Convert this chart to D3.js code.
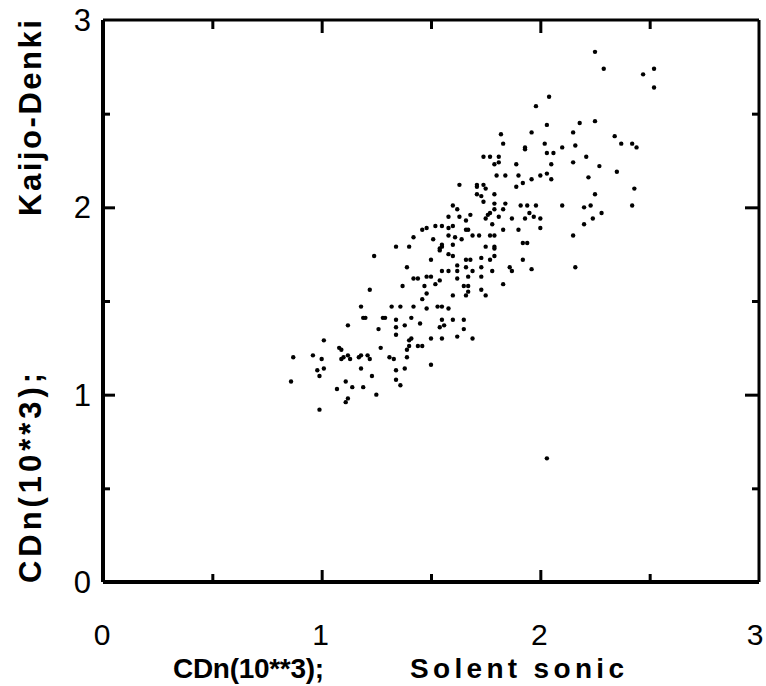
<!DOCTYPE html>
<html>
<head>
<meta charset="utf-8">
<script src="https://cdn.jsdelivr.net/npm/d3@7"></script>
<style>
  html, body { margin: 0; padding: 0; background: #fff; }
  svg { display: block; }
</style>
</head>
<body>
<svg id="chart" width="766" height="686"></svg>
<script>
// ---- Data ----
const xTickLabels = ["0", "1", "2", "3"];
const yTickLabels = ["0", "1", "2", "3"];
const xTitleParts = ["CDn(10**3);", "Solent  sonic"];
const yTitleParts = ["CDn(10**3);", "Kaijo-Denki"];

// CDn (10**3), Solent sonic (x)
const solentSonic = [
  1.24,1.50,1.54,1.58,1.60,1.62,1.39,1.55,1.58,1.62,1.42,1.44,1.48,1.50,1.54,1.52,1.47,1.37,1.22,1.48,
  1.60,1.46,1.32,1.36,1.42,1.48,1.53,1.55,1.58,1.18,1.19,1.20,1.28,1.29,1.34,1.41,1.55,1.60,1.12,1.38,
  1.45,1.34,1.54,1.56,1.26,1.34,1.62,1.50,1.01,1.40,1.08,1.09,1.27,1.40,1.39,1.44,1.46,0.87,0.96,1.00,
  1.09,1.10,1.12,1.13,1.17,1.18,1.21,1.22,1.31,1.33,1.39,0.98,0.99,1.01,1.18,1.38,1.50,1.23,1.34,1.34,
  0.86,1.11,1.07,1.14,1.19,1.12,1.25,0.99,2.03,1.11,1.36,
  1.83,1.93,1.93,1.74,1.77,1.81,1.79,1.81,1.89,1.80,1.84,1.90,1.63,1.71,1.71,1.74,1.75,1.92,1.89,1.71,
  1.73,1.74,1.79,1.79,1.79,1.84,1.83,1.91,1.94,1.60,1.62,1.58,1.63,1.66,1.68,1.75,1.76,1.77,1.81,1.87,
  1.93,1.46,1.48,1.52,1.55,1.58,1.60,1.66,1.67,1.78,1.83,1.90,1.42,1.51,1.58,1.61,1.64,1.69,1.72,1.77,
  1.79,1.34,1.40,1.55,1.54,1.55,1.60,1.75,1.79,1.79,1.92,1.94,1.66,1.68,1.73,1.77,1.79,1.92,1.66,1.69,
  1.73,1.78,1.86,1.87,1.62,1.67,1.73,1.65,1.67,1.67,1.73,1.75,1.83,1.66,1.65,1.65,1.41,1.55,1.69,
  2.04,1.98,2.03,2.18,2.25,1.96,2.15,1.82,2.02,2.10,2.16,2.34,2.37,2.42,2.44,2.03,2.06,2.21,2.15,2.05,
  2.27,1.96,2.00,2.03,2.05,2.22,2.35,2.43,2.25,1.98,2.10,2.20,2.23,2.42,1.95,1.97,2.00,2.24,2.28,2.20,
  2.00,2.15,1.96,2.16,2.25,2.29,2.47,2.52,2.52
];
// CDn (10**3), Kaijo-Denki (y)
const kaijoDenki = [
  1.74,1.72,1.77,1.75,1.74,1.69,1.68,1.66,1.66,1.66,1.62,1.62,1.63,1.63,1.61,1.59,1.58,1.58,1.56,1.54,
  1.53,1.51,1.47,1.47,1.47,1.46,1.47,1.47,1.46,1.47,1.41,1.41,1.41,1.41,1.40,1.41,1.40,1.40,1.37,1.37,
  1.38,1.36,1.36,1.37,1.35,1.32,1.31,1.30,1.29,1.29,1.25,1.24,1.25,1.26,1.24,1.26,1.26,1.20,1.21,1.19,
  1.19,1.20,1.21,1.19,1.20,1.21,1.21,1.19,1.20,1.19,1.20,1.13,1.10,1.14,1.14,1.14,1.16,1.10,1.13,1.08,
  1.07,1.07,1.03,1.04,1.04,0.98,1.00,0.92,0.66,0.96,1.05,
  2.34,2.32,2.31,2.27,2.27,2.27,2.23,2.24,2.23,2.17,2.17,2.17,2.12,2.12,2.11,2.12,2.10,2.13,2.11,2.07,
  2.06,2.03,2.07,2.02,1.99,2.02,1.99,2.01,2.01,2.01,1.99,1.95,1.95,1.93,1.96,1.94,1.96,1.97,1.95,1.94,
  1.94,1.88,1.89,1.90,1.90,1.89,1.90,1.88,1.88,1.91,1.88,1.88,1.84,1.83,1.85,1.84,1.83,1.85,1.85,1.85,
  1.85,1.79,1.79,1.79,1.78,1.80,1.80,1.79,1.79,1.78,1.81,1.81,1.72,1.72,1.73,1.72,1.74,1.72,1.68,1.66,
  1.68,1.66,1.68,1.66,1.62,1.63,1.63,1.58,1.58,1.55,1.56,1.53,1.59,1.53,1.40,1.35,1.30,1.30,1.30,
  2.59,2.54,2.44,2.45,2.46,2.40,2.40,2.39,2.34,2.32,2.33,2.38,2.34,2.34,2.32,2.29,2.29,2.27,2.24,2.23,
  2.22,2.15,2.17,2.18,2.15,2.16,2.19,2.10,2.07,2.01,2.01,2.00,2.01,2.01,1.97,1.95,1.94,1.94,1.97,1.91,
  1.89,1.85,1.67,1.68,2.83,2.74,2.71,2.74,2.64
];

const majorTicks = [0, 1, 2, 3];
const minorTicks = [0.5, 1.5, 2.5];

// ---- Layout ----
const svg = d3.select("#chart");
const plotL = 103, plotR = 759, plotT = 20, plotB = 582;
const x = d3.scaleLinear().domain([0, 3]).range([plotL, plotR]);
const y = d3.scaleLinear().domain([0, 3]).range([plotB, plotT]);

const narrowFont = "'Liberation Sans Narrow', 'Liberation Sans', Arial, sans-serif";

// Frame
const frame = svg.append("g");
frame.append("line").attr("x1", plotL).attr("x2", plotR).attr("y1", plotB).attr("y2", plotB)
  .attr("stroke", "#000").attr("stroke-width", 4);
frame.append("line").attr("x1", plotL).attr("x2", plotL).attr("y1", plotT).attr("y2", plotB)
  .attr("stroke", "#000").attr("stroke-width", 4);
frame.append("line").attr("x1", plotL).attr("x2", plotR).attr("y1", plotT).attr("y2", plotT)
  .attr("stroke", "#000").attr("stroke-width", 3);
frame.append("line").attr("x1", plotR).attr("x2", plotR).attr("y1", plotT).attr("y2", plotB)
  .attr("stroke", "#000").attr("stroke-width", 3);

// Inward ticks via d3 axes (no domain, no labels)
function tickAxis(axisFn, scale, values, size, transform) {
  const g = svg.append("g").attr("transform", transform)
    .call(axisFn(scale).tickValues(values).tickSize(size).tickFormat(""));
  g.select(".domain").remove();
  g.selectAll(".tick line").attr("stroke", "#000").attr("stroke-width", 3);
  return g;
}
const innerMajor = [1, 2];
tickAxis(d3.axisBottom, x, innerMajor, -12, `translate(0,${plotB})`);
tickAxis(d3.axisBottom, x, minorTicks, -8, `translate(0,${plotB})`);
tickAxis(d3.axisTop, x, innerMajor, -13, `translate(0,${plotT})`);
tickAxis(d3.axisTop, x, minorTicks, -9, `translate(0,${plotT})`);
tickAxis(d3.axisLeft, y, innerMajor, -12, `translate(${plotL},0)`);
tickAxis(d3.axisLeft, y, minorTicks, -7, `translate(${plotL},0)`);
tickAxis(d3.axisRight, y, innerMajor, -14, `translate(${plotR},0)`);
tickAxis(d3.axisRight, y, minorTicks, -7, `translate(${plotR},0)`);

// Tick labels
svg.append("g").selectAll("text").data(majorTicks).join("text")
  .attr("x", d => Math.min(x(d) - 1, 755)).attr("y", 645)
  .attr("text-anchor", "middle")
  .attr("font-family", narrowFont).attr("font-size", 30)
  .text((d, i) => xTickLabels[i]);
svg.append("g").selectAll("text").data(majorTicks).join("text")
  .attr("x", 91).attr("y", d => y(d)).attr("dy", "0.36em")
  .attr("text-anchor", "end")
  .attr("font-family", narrowFont).attr("font-size", 31)
  .text((d, i) => yTickLabels[i]);

// Axis titles
svg.append("text").attr("x", 173).attr("y", 678)
  .attr("font-family", narrowFont).attr("font-weight", "bold").attr("font-size", 28)
  .attr("textLength", 151).attr("lengthAdjust", "spacing")
  .text(xTitleParts[0]);
svg.append("text").attr("x", 410).attr("y", 678)
  .attr("font-family", narrowFont).attr("font-weight", "bold").attr("font-size", 28)
  .attr("textLength", 214).attr("lengthAdjust", "spacing")
  .text(xTitleParts[1]);
svg.append("text").attr("transform", "translate(41,583) rotate(-90)")
  .attr("font-family", narrowFont).attr("font-weight", "bold").attr("font-size", 31)
  .attr("textLength", 210).attr("lengthAdjust", "spacing")
  .text(yTitleParts[0]);
svg.append("text").attr("transform", "translate(41,216) rotate(-90)")
  .attr("font-family", narrowFont).attr("font-weight", "bold").attr("font-size", 31)
  .attr("textLength", 196).attr("lengthAdjust", "spacing")
  .text(yTitleParts[1]);

// Points
const pts = d3.zip(solentSonic, kaijoDenki);
svg.append("g").selectAll("circle").data(pts).join("circle")
  .attr("cx", d => x(d[0])).attr("cy", d => y(d[1]))
  .attr("r", 2.2).attr("fill", "#000");
</script>
</body>
</html>
